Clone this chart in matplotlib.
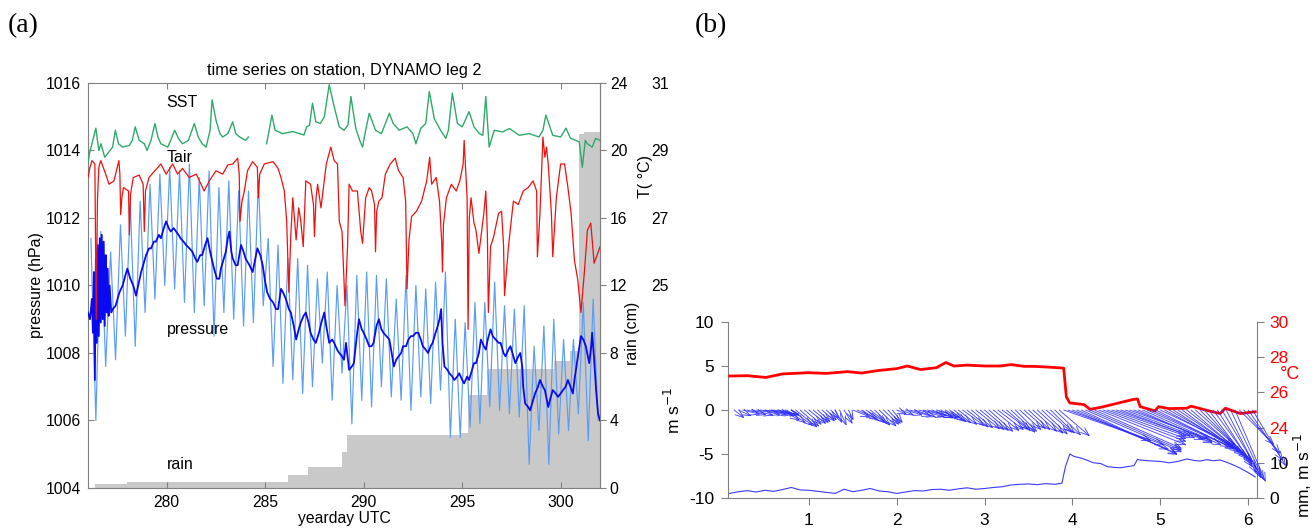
import numpy as np
import matplotlib
matplotlib.use('Agg')
import matplotlib.pyplot as plt

plt.rcParams['font.family'] = ['Liberation Sans', 'DejaVu Sans']
plt.rcParams['axes.unicode_minus'] = False

# ---------------- Panel (a) data ----------------
# SST (deg C), (yearday, value); nan marks the data gap
sst_obs = [(276.0, 28.6), (276.07, 28.9), (276.2, 29.2), (276.4, 29.66), (276.55, 29.0), (276.66, 29.2),
           (276.85, 28.8), (277.08, 28.97), (277.25, 29.1), (277.39, 29.6), (277.55, 29.2), (277.76, 29.1),
           (278.1, 29.15), (278.25, 29.3), (278.4, 29.7), (278.6, 29.3), (278.86, 29.2), (279.0, 29.0),
           (279.2, 29.3), (279.4, 29.8), (279.55, 29.4), (279.7, 29.2), (280.05, 29.1), (280.2, 29.3),
           (280.4, 29.6), (280.6, 29.35), (280.8, 29.2), (281.1, 29.3), (281.4, 29.8), (281.6, 29.4),
           (281.8, 29.2), (282.0, 29.1), (282.2, 29.6), (282.3, 30.5), (282.5, 29.9), (282.7, 29.5),
           (282.84, 29.4), (283.1, 29.5), (283.35, 29.85), (283.5, 29.5), (283.7, 29.4), (284.0, 29.3),
           (284.15, 29.4), (284.16, np.nan), (285.07, 29.2), (285.2, 29.6), (285.34, 30.05), (285.5, 29.6),
           (285.88, 29.5), (286.4, 29.56), (286.97, 29.46), (287.1, 29.7), (287.25, 29.75), (287.4, 30.4),
           (287.57, 29.85), (287.8, 29.8), (288.0, 30.0), (288.25, 30.95), (288.5, 30.3), (288.76, 29.7),
           (289.0, 29.6), (289.2, 29.75), (289.35, 30.6), (289.6, 29.65), (289.8, 29.3), (289.94, 29.1),
           (290.1, 29.6), (290.28, 30.1), (290.6, 29.6), (290.9, 29.5), (291.3, 30.1), (291.5, 29.8),
           (291.8, 29.6), (292.2, 29.7), (292.5, 29.5), (292.65, 29.2), (292.9, 29.66), (293.15, 29.8),
           (293.33, 30.75), (293.58, 29.95), (293.9, 29.6), (294.17, 29.36), (294.3, 29.6), (294.5, 30.7),
           (294.76, 29.8), (295.0, 29.7), (295.35, 30.15), (295.6, 29.7), (295.87, 29.5), (296.05, 29.45),
           (296.2, 30.6), (296.37, 29.1), (296.63, 29.6), (297.05, 29.55), (297.4, 29.65), (297.9, 29.45),
           (298.4, 29.5), (298.9, 29.4), (299.1, 29.6), (299.25, 30.05), (299.6, 29.45), (300.0, 29.4),
           (300.27, 29.66), (300.5, 29.36), (300.94, 29.26), (301.1, 28.5), (301.25, 29.3), (301.36, 29.2),
           (301.6, 29.1), (301.78, 29.36), (302.0, 29.3)]

# air temperature (deg C)
tair_obs = [(276.0, 28.2), (276.1, 28.5), (276.2, 28.7), (276.35, 28.6), (276.42, 24.0), (276.48, 27.5),
            (276.55, 28.5), (276.65, 28.7), (276.9, 28.3), (277.07, 28.0), (277.32, 28.1), (277.57, 28.7),
            (277.62, 28.3), (277.66, 27.1), (277.72, 27.6), (277.8, 27.9), (278.06, 27.8), (278.1, 26.5),
            (278.16, 27.7), (278.3, 28.2), (278.6, 28.27), (278.8, 28.0), (278.86, 26.6), (278.92, 27.8),
            (279.1, 28.2), (279.5, 28.47), (279.7, 28.6), (279.97, 28.3), (280.3, 28.6), (280.55, 28.3),
            (280.8, 28.47), (281.14, 28.2), (281.5, 28.3), (281.9, 27.8), (282.16, 28.1), (282.5, 28.4),
            (282.84, 28.3), (283.1, 28.57), (283.35, 28.6), (283.6, 28.77), (283.68, 28.3), (283.72, 26.9),
            (283.82, 27.5), (283.94, 27.8), (284.1, 28.4), (284.36, 28.67), (284.6, 28.5), (284.65, 27.6),
            (284.72, 28.3), (284.95, 28.6), (285.4, 28.67), (285.65, 28.47), (285.8, 28.2), (285.97, 27.8),
            (286.09, 26.9), (286.2, 24.8), (286.3, 26.5), (286.4, 27.6), (286.57, 26.35), (286.7, 27.3),
            (286.8, 26.94), (286.93, 26.15), (287.06, 28.1), (287.3, 28.0), (287.45, 27.4), (287.5, 26.45),
            (287.58, 27.6), (287.66, 28.0), (287.83, 27.3), (288.1, 28.6), (288.33, 29.1), (288.5, 28.7),
            (288.67, 28.6), (288.76, 26.9), (288.9, 26.6), (289.05, 24.4), (289.18, 26.15), (289.26, 28.0),
            (289.43, 27.8), (289.68, 27.8), (289.85, 26.6), (289.94, 26.25), (290.1, 27.6), (290.28, 27.9),
            (290.4, 27.8), (290.55, 27.4), (290.6, 26.0), (290.66, 27.2), (290.77, 27.5), (290.93, 27.6),
            (291.1, 28.3), (291.35, 28.6), (291.6, 28.77), (291.77, 28.4), (292.0, 28.2), (292.13, 27.5),
            (292.2, 24.9), (292.3, 26.35), (292.43, 27.04), (292.68, 27.2), (292.94, 27.5), (293.2, 28.1),
            (293.35, 28.8), (293.45, 28.0), (293.68, 28.2), (293.85, 27.5), (293.96, 26.3), (294.0, 25.4),
            (294.05, 26.8), (294.2, 27.6), (294.45, 28.0), (294.7, 27.8), (294.88, 28.1), (295.05, 28.6),
            (295.1, 29.3), (295.18, 28.4), (295.25, 27.6), (295.3, 23.7), (295.36, 27.0), (295.45, 27.6),
            (295.6, 26.85), (295.7, 26.64), (295.85, 25.95), (296.1, 27.14), (296.2, 27.8), (296.28, 26.5),
            (296.33, 24.2), (296.44, 26.15), (296.6, 26.45), (296.85, 27.14), (297.0, 27.2), (297.1, 26.2),
            (297.15, 24.7), (297.35, 26.15), (297.6, 27.5), (297.85, 27.4), (298.1, 27.8), (298.35, 27.9),
            (298.6, 28.1), (298.78, 27.8), (298.82, 25.85), (298.95, 27.14), (299.1, 29.4), (299.2, 28.8),
            (299.28, 29.1), (299.37, 28.6), (299.53, 27.14), (299.6, 25.85), (299.78, 27.6), (300.0, 28.6),
            (300.2, 28.6), (300.37, 27.9), (300.53, 27.14), (300.7, 25.75), (300.87, 25.16), (301.03, 24.2),
            (301.2, 25.36), (301.36, 26.64), (301.53, 26.85), (301.7, 25.66), (302.0, 26.15)]

# smoothed pressure (hPa)
psmooth_obs = [(276.0, 1009.2), (276.1, 1009.0), (276.2, 1009.6), (276.25, 1008.6), (276.3, 1010.4),
               (276.35, 1007.2), (276.4, 1010.8), (276.45, 1008.3), (276.5, 1011.2), (276.55, 1008.5),
               (276.6, 1011.4), (276.65, 1008.9), (276.7, 1011.5), (276.75, 1009.0), (276.8, 1011.3),
               (276.85, 1008.8), (276.9, 1010.9), (276.95, 1009.2), (277.0, 1010.5), (277.05, 1009.1),
               (277.1, 1010.0), (277.18, 1009.2), (277.26, 1009.3), (277.4, 1009.4), (277.5, 1009.6),
               (277.6, 1009.8), (277.76, 1010.0), (277.9, 1010.3), (278.0, 1010.5), (278.15, 1010.2),
               (278.3, 1010.0), (278.44, 1009.7), (278.55, 1010.0), (278.7, 1010.4), (278.85, 1010.7),
               (278.95, 1010.9), (279.1, 1011.1), (279.2, 1011.1), (279.35, 1011.3), (279.45, 1011.3),
               (279.6, 1011.5), (279.7, 1011.4), (279.85, 1011.7), (279.97, 1011.9), (280.1, 1011.7),
               (280.2, 1011.6), (280.35, 1011.7), (280.47, 1011.6), (280.6, 1011.5), (280.7, 1011.4),
               (280.85, 1011.3), (280.98, 1011.2), (281.15, 1011.1), (281.3, 1011.0), (281.45, 1010.8),
               (281.55, 1010.7), (281.7, 1010.9), (281.8, 1010.9), (281.95, 1011.2), (282.07, 1011.4),
               (282.2, 1011.0), (282.4, 1010.5), (282.55, 1010.2), (282.67, 1010.2), (282.75, 1010.5),
               (282.9, 1010.8), (283.0, 1011.0), (283.1, 1011.4), (283.18, 1011.6), (283.28, 1011.0),
               (283.35, 1010.8), (283.5, 1010.6), (283.6, 1010.6), (283.77, 1011.2), (283.9, 1011.0),
               (284.0, 1010.8), (284.2, 1010.6), (284.36, 1010.4), (284.5, 1010.8), (284.6, 1011.1),
               (284.75, 1010.9), (284.87, 1010.6), (285.0, 1010.1), (285.1, 1009.8), (285.25, 1009.6),
               (285.4, 1009.5), (285.55, 1009.3), (285.65, 1009.3), (285.8, 1009.9), (285.9, 1009.8),
               (286.05, 1009.6), (286.2, 1009.3), (286.3, 1009.2), (286.45, 1008.8), (286.57, 1008.4),
               (286.7, 1008.7), (286.8, 1008.9), (286.95, 1009.1), (287.06, 1009.2), (287.2, 1008.9),
               (287.3, 1008.6), (287.45, 1008.4), (287.57, 1008.3), (287.73, 1008.6), (287.85, 1008.9),
               (288.0, 1009.2), (288.1, 1008.8), (288.25, 1008.3), (288.4, 1008.4), (288.5, 1008.3),
               (288.65, 1008.1), (288.76, 1008.0), (288.9, 1007.9), (289.0, 1007.8), (289.1, 1008.3),
               (289.18, 1007.9), (289.26, 1007.5), (289.4, 1007.6), (289.5, 1007.7), (289.65, 1008.5),
               (289.76, 1009.0), (289.9, 1008.7), (290.0, 1008.6), (290.15, 1008.4), (290.28, 1008.2),
               (290.4, 1008.2), (290.5, 1008.3), (290.65, 1008.8), (290.77, 1009.0), (290.9, 1008.7),
               (291.0, 1008.6), (291.15, 1008.5), (291.3, 1008.4), (291.45, 1007.9), (291.53, 1007.6),
               (291.65, 1007.8), (291.77, 1007.9), (291.9, 1008.0), (292.0, 1008.2), (292.15, 1008.2),
               (292.27, 1008.4), (292.4, 1008.5), (292.5, 1008.5), (292.65, 1008.6), (292.77, 1008.6),
               (292.9, 1008.4), (293.0, 1008.2), (293.15, 1008.1), (293.27, 1008.0), (293.4, 1008.2),
               (293.5, 1008.3), (293.65, 1008.6), (293.76, 1008.8), (293.85, 1009.0), (293.93, 1009.3),
               (294.0, 1008.3), (294.1, 1007.6), (294.25, 1007.5), (294.35, 1007.4), (294.5, 1007.3),
               (294.6, 1007.2), (294.75, 1007.3), (294.85, 1007.4), (295.0, 1007.2), (295.1, 1007.1),
               (295.25, 1007.3), (295.35, 1007.2), (295.5, 1007.5), (295.6, 1007.7), (295.7, 1007.7),
               (295.85, 1008.0), (295.95, 1008.4), (296.1, 1008.2), (296.2, 1008.1), (296.3, 1008.4),
               (296.44, 1008.7), (296.55, 1008.5), (296.7, 1008.4), (296.85, 1008.3), (296.95, 1008.3),
               (297.1, 1008.0), (297.2, 1007.9), (297.35, 1008.1), (297.45, 1008.2), (297.6, 1007.9),
               (297.7, 1007.7), (297.85, 1007.9), (297.95, 1008.0), (298.05, 1007.6), (298.1, 1007.0),
               (298.2, 1006.5), (298.35, 1006.4), (298.45, 1006.3), (298.55, 1006.5), (298.7, 1006.8),
               (298.85, 1007.0), (298.95, 1007.2), (299.1, 1007.0), (299.2, 1006.9), (299.3, 1006.6),
               (299.37, 1006.4), (299.5, 1006.7), (299.6, 1006.9), (299.75, 1006.8), (299.87, 1006.7),
               (300.0, 1006.8), (300.12, 1006.9), (300.25, 1007.0), (300.37, 1007.2), (300.5, 1007.0),
               (300.62, 1006.8), (300.7, 1007.2), (300.8, 1007.6), (300.9, 1008.0), (301.03, 1008.5),
               (301.15, 1008.4), (301.28, 1008.2), (301.45, 1007.7), (301.55, 1008.2), (301.6, 1008.6),
               (301.7, 1007.8), (301.8, 1006.9), (301.9, 1006.2), (302.0, 1006.0)]

# raw pressure: semidiurnal peaks/troughs every 6 h starting 276.15 (hPa)
praw_start = 276.15
praw_step = 0.25
praw = [1011.4, 1006.0, 1011.6, 1007.6,  1011.0, 1007.8, 1011.8, 1008.5,
        1012.4, 1008.2, 1012.5, 1009.2,  1013.0, 1009.6, 1013.3, 1010.0,
        1013.5, 1009.9, 1013.4, 1009.5,  1013.6, 1009.2, 1013.2, 1009.4,
        1013.4, 1008.5, 1012.9, 1009.2,  1013.1, 1009.0, 1012.8, 1008.8,
        1012.8, 1008.9, 1013.1, 1009.4,  1011.4, 1007.6, 1011.2, 1007.1,
        1010.8, 1007.2, 1010.8, 1006.8,  1010.6, 1007.0, 1010.2, 1007.7,
        1010.4, 1006.6, 1010.0, 1007.4,  1010.0, 1005.9, 1010.3, 1006.6,
        1010.4, 1006.4, 1010.3, 1007.0,  1010.2, 1006.7, 1009.6, 1006.6,
        1010.3, 1006.3, 1010.0, 1006.7,  1009.9, 1006.5, 1010.1, 1006.9,
        1010.4, 1005.5, 1009.0, 1005.5,  1008.9, 1005.8, 1009.5, 1005.9,
        1009.5, 1006.4, 1010.1, 1006.3,  1009.4, 1006.2, 1009.3, 1006.1,
        1009.4, 1004.7, 1008.2, 1005.7,  1008.8, 1004.7, 1009.0, 1005.6,
        1008.4, 1005.7, 1008.4, 1006.2,  1009.5, 1005.4, 1009.6, 1006.0]

# cumulative rain (cm)
rain_day = [276.35, 278.0, 286.15, 287.17, 288.88, 289.13, 294.9, 295.3, 296.25, 299.65, 300.5, 300.92, 301.2, 302.0]
rain_cm = [0.22, 0.37, 0.75, 1.23, 2.15, 3.12, 3.25, 5.5, 7.05, 7.5, 8.1, 21.0, 21.1, 21.2]

# ---------------- Panel (b) data ----------------
tb_time = [0.10, 0.3, 0.51, 0.7, 1.0, 1.2, 1.44, 1.6, 1.8, 2.0, 2.12, 2.27, 2.45, 2.56, 2.65, 2.8, 3.0, 3.18,
           3.3, 3.45, 3.56, 3.75, 3.9, 3.93, 3.97, 4.13, 4.2, 4.32, 4.51, 4.69, 4.74, 4.77, 4.94, 4.98, 5.1,
           5.3, 5.35, 5.53, 5.68, 5.74, 5.91, 6.08]
tb_temp = [26.93, 26.95, 26.85, 27.05, 27.12, 27.08, 27.18, 27.1, 27.25, 27.35, 27.5, 27.3, 27.4, 27.7, 27.5,
           27.55, 27.5, 27.5, 27.58, 27.48, 27.48, 27.43, 27.38, 25.75, 25.4, 25.31, 25.04, 25.15, 25.38, 25.6,
           25.63, 25.19, 24.95, 25.19, 25.08, 25.1, 25.22, 24.98, 24.8, 25.1, 24.8, 24.9]

sb_time = [0.1, 0.2, 0.3, 0.4, 0.5, 0.6, 0.7, 0.8, 0.9, 1.0, 1.1, 1.2, 1.3, 1.4, 1.5, 1.6, 1.7, 1.8, 1.9, 2.0,
           2.1, 2.2, 2.3, 2.4, 2.5, 2.6, 2.7, 2.8, 2.9, 3.0, 3.1, 3.2, 3.3, 3.4, 3.5, 3.6, 3.7, 3.8,
           3.88, 3.92, 3.97, 4.02, 4.09, 4.16, 4.24, 4.32, 4.4, 4.48, 4.55, 4.62, 4.7, 4.74, 4.77, 4.85, 4.92,
           5.0, 5.1, 5.2, 5.3, 5.38, 5.45, 5.53, 5.6, 5.68, 5.75, 5.83, 5.9, 5.98, 6.08]
sb_val = [1.3, 1.8, 2.1, 1.7, 2.2, 1.9, 2.4, 3.0, 2.3, 2.2, 1.9, 1.6, 1.3, 2.5, 1.8, 2.2, 2.7, 2.0, 1.8, 1.3,
          1.7, 2.1, 2.0, 2.4, 2.5, 2.2, 2.6, 2.9, 2.5, 2.7, 3.0, 3.2, 3.7, 3.9, 4.0, 3.8, 4.1, 3.9,
          4.2, 8.9, 12.5, 11.8, 11.4, 10.8, 10.0, 9.8, 8.9, 8.7, 8.6, 8.9, 9.2, 11.0, 10.8, 10.6, 10.5,
          10.4, 10.0, 10.4, 11.1, 10.7, 10.5, 10.9, 10.6, 10.8, 10.2, 9.4, 8.6, 7.5, 6.0]

# wind sticks every 0.05 day from 0.15
wind_start = 0.15
wind_step = 0.05
wind_u = [0.12, 0.15, 0.2, 0.22, 0.25, 0.28, 0.3, 0.3, 0.28, 0.3, 0.25,
          0.2, 0.22, 0.25, 0.25, 0.22, 0.2, 0.2, 0.18, 0.15, 0.15, 0.12, 0.1,
          0.08, 0.08, 0.1, 0.06,
          0.2, 0.22, 0.2, 0.22, 0.2, 0.18, 0.2, 0.18, 0.15, 0.12,
          0.12, 0.15, 0.2, 0.25, 0.25, 0.3, 0.28, 0.3, 0.25, 0.28,
          0.2, 0.22, 0.2, 0.2, 0.22, 0.25, 0.25, 0.25, 0.28, 0.28,
          0.28, 0.28, 0.3, 0.3, 0.3, 0.28, 0.28, 0.25, 0.25, 0.25,
          0.25, 0.28, 0.3, 0.3, 0.3, 0.28, 0.3, 0.35,
          1.0, 1.1, 1.1, 1.15, 1.1, 1.1, 1.05, 1.0, 1.0, 0.95, 0.9, 0.85,
          0.85, 0.85, 0.9, 0.9, 0.9, 0.85, 0.9, 0.95, 0.95, 0.9,
          0.85, 0.8, 0.8, 0.75, 0.75, 0.7, 0.7, 0.65, 0.65, 0.6,
          0.55, 0.5, 0.5, 0.45, 0.45, 0.4, 0.38, 0.35,
          0.4, 0.42, 0.4, 0.38]
wind_v = [-0.95, -0.7, -0.5, -0.55, -0.6, -0.5, -0.5, -0.45, -0.55, -0.5, -0.6,
          -1.2, -1.5, -1.8, -2.0, -1.9, -1.7, -1.6, -1.5, -1.4, -1.3, -1.2, -1.0,
          -1.5, -1.8, -1.6, -1.2,
          -0.8, -1.0, -1.2, -1.4, -1.6, -1.8, -1.9, -1.7, -1.6, -1.5,
          -0.5, -0.6, -0.6, -0.7, -0.8, -0.8, -0.7, -0.8, -0.9, -0.9,
          -1.0, -1.2, -1.4, -1.5, -1.7, -1.8, -2.0, -2.1, -2.2, -2.3,
          -2.4, -2.5, -2.4, -2.3, -2.2, -2.4, -2.6, -2.5, -2.3, -2.2,
          -2.3, -2.5, -2.7, -2.8, -2.6, -2.7, -2.9, -3.0,
          -3.5, -4.0, -4.5, -5.0, -5.1, -4.8, -4.6, -4.4, -4.0, -3.6, -3.3, -3.0,
          -3.0, -3.2, -3.4, -3.3, -3.6, -3.8, -4.0, -4.2, -4.4, -4.5,
          -4.0, -4.3, -4.5, -4.8, -5.0, -5.2, -5.4, -5.6, -5.8, -6.0,
          -6.2, -6.5, -6.8, -7.2, -7.5, -7.8, -8.0, -8.2,
          -4.0, -5.0, -5.8, -6.4]

# ---------------- Figure ----------------
SPINE = '#808080'
fig = plt.figure(figsize=(13.15, 5.31), dpi=100)

# ----- Panel (a)
ax = fig.add_axes([0.0669, 0.0810, 0.3894, 0.7627])
T_OFF = 985.0  # T axis: 31 degC at 1016 hPa


def p2rain(p):
    return (p - 1004.0) * 2.0


def rain2p(r):
    return np.asarray(r) / 2.0 + 1004.0


rd = np.array(rain_day)
ax.fill_between(rd, 1004.0, rain2p(rain_cm), step='post', color='#c9c9c9', lw=0, zorder=1)

pr_t = praw_start + praw_step * np.arange(len(praw))
ax.plot(pr_t, praw, color='#5a9cf6', lw=0.85, zorder=2)

ps = np.array(psmooth_obs)
ax.plot(ps[:, 0], ps[:, 1], color='#0a0af0', lw=1.3, zorder=3)

ta = np.array(tair_obs)
ax.plot(ta[:, 0], ta[:, 1] + T_OFF, color='#f01010', lw=0.9, zorder=4)

ss = np.array(sst_obs)
ax.plot(ss[:, 0], ss[:, 1] + T_OFF, color='#2eaa6a', lw=1.0, zorder=5)

ax.set_xlim(276, 302)
ax.set_ylim(1004, 1016)
ax.set_xticks([280, 285, 290, 295, 300])
ax.set_yticks([1004, 1006, 1008, 1010, 1012, 1014, 1016])
ax.tick_params(direction='in', top=True, right=False, length=4, color=SPINE, labelsize=11.3, pad=5)
for s in ax.spines.values():
    s.set_color(SPINE)
ax.set_xlabel('yearday UTC', fontsize=11.3, labelpad=1)
ax.set_ylabel('pressure (hPa)', fontsize=11.5, labelpad=1)
ax.set_title('time series on station, DYNAMO leg 2', fontsize=11.7, pad=6)

ax.text(280.0, 1015.3, 'SST', fontsize=11.5, zorder=6)
ax.text(280.0, 1013.65, 'Tair', fontsize=11.5, zorder=6)
ax.text(280.0, 1008.55, 'pressure', fontsize=11.5, zorder=6)
ax.text(280.0, 1004.55, 'rain', fontsize=11.5, zorder=6)

sec_r = ax.secondary_yaxis('right', functions=(p2rain, lambda r: r / 2.0 + 1004.0))
sec_r.set_yticks([0, 4, 8, 12, 16, 20, 24])
sec_r.tick_params(direction='out', length=4, color=SPINE, labelsize=11.3, pad=3)
sec_r.spines['right'].set_color(SPINE)

sec_t = ax.secondary_yaxis('right', functions=(lambda p: p - T_OFF, lambda t: t + T_OFF))
sec_t.set_yticks([25, 27, 29, 31])
sec_t.tick_params(length=0, labelsize=11.3, pad=37)
sec_t.spines['right'].set_visible(False)

fig.text(0.481, 0.373, 'rain (cm)', rotation=90, ha='center', va='center', fontsize=11.5)
fig.text(0.491, 0.668, 'T( \u00b0C)', rotation=90, ha='center', va='center', fontsize=11.5)

# ----- Panel (b)
axb = fig.add_axes([0.5536, 0.0621, 0.4023, 0.3315])
tb = np.array(tb_temp)
axb.plot(tb_time, 2.0 * tb - 50.0, color='#ff0000', lw=2.0, zorder=3)
sv = np.array(sb_val)
axb.plot(sb_time, sv / 2.5 - 10.0, color='#3a3aff', lw=0.8, zorder=2)

wt = wind_start + wind_step * np.arange(len(wind_u))
for t0, du, dv in zip(wt, wind_u, wind_v):
    axb.annotate('', xy=(t0 + du, dv), xytext=(t0, 0.0), annotation_clip=False, zorder=4,
                 arrowprops=dict(arrowstyle='->,head_length=0.6,head_width=0.22',
                                 color='#2a2aff', lw=0.65, shrinkA=0, shrinkB=0, alpha=0.85))

axb.set_xlim(0.08, 6.1)
axb.set_ylim(-10, 10)
axb.set_xticks([1, 2, 3, 4, 5, 6])
axb.set_yticks([-10, -5, 0, 5, 10])
axb.tick_params(direction='out', length=5, color=SPINE, labelsize=12.5, pad=5)
axb.tick_params(axis='x', pad=6)
axb.spines['top'].set_visible(False)
axb.spines['right'].set_visible(False)
for k in ('left', 'bottom'):
    axb.spines[k].set_color(SPINE)
axb.set_ylabel('m s$^{-1}$', fontsize=12.5, labelpad=4)

secb = axb.secondary_yaxis('right', functions=(lambda y: (y + 10.0) * 2.5, lambda v: v / 2.5 - 10.0))
secb.set_yticks([0, 10, 20, 30, 40, 50], labels=['0', '10', '24', '26', '28', '30'])
secb.tick_params(direction='out', length=5, color=SPINE, labelsize=12.5, pad=4)
secb.spines['right'].set_color(SPINE)
for lbl in secb.get_yticklabels()[2:]:
    lbl.set_color('#ff0000')

fig.text(0.981, 0.294, '\u00b0C', color='#ff0000', ha='center', va='center', fontsize=13)
fig.text(0.991, 0.105, 'mm, m s$^{-1}$', rotation=90, ha='center', va='center', fontsize=12.5)

fig.text(0.006, 0.952, '(a)', family=['Liberation Serif', 'DejaVu Serif'], fontsize=20, va='center')
fig.text(0.528, 0.952, '(b)', family=['Liberation Serif', 'DejaVu Serif'], fontsize=20, va='center')

fig.savefig('out.png', dpi=100)
